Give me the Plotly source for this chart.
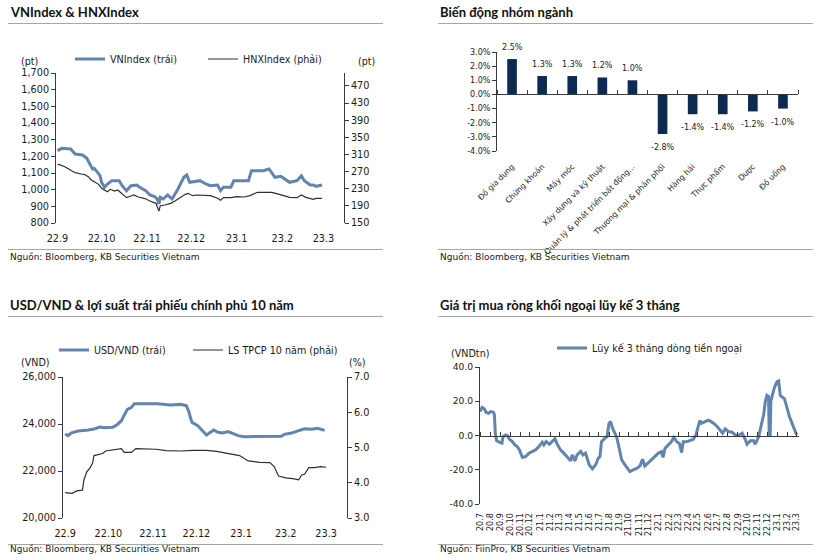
import plotly.graph_objects as go

# ---------------- Panel 1: VNIndex & HNXIndex ----------------
vn_dates = ["2022-09-01", "2022-09-04", "2022-09-10", "2022-09-13", "2022-09-18", "2022-09-21",
            "2022-09-23", "2022-09-25", "2022-09-26", "2022-09-29", "2022-09-30", "2022-10-01",
            "2022-10-03", "2022-10-05", "2022-10-08", "2022-10-13", "2022-10-15", "2022-10-18",
            "2022-10-21", "2022-10-25", "2022-10-27", "2022-10-31", "2022-11-03", "2022-11-06",
            "2022-11-08", "2022-11-09", "2022-11-10", "2022-11-12", "2022-11-15", "2022-11-18",
            "2022-11-20", "2022-11-22", "2022-11-26", "2022-11-28", "2022-11-30", "2022-12-05",
            "2022-12-07", "2022-12-11", "2022-12-14", "2022-12-19", "2022-12-21", "2022-12-23",
            "2022-12-28", "2022-12-30", "2023-01-09", "2023-01-11", "2023-01-19", "2023-01-23",
            "2023-01-25", "2023-01-27", "2023-01-31", "2023-02-03", "2023-02-06", "2023-02-11",
            "2023-02-14", "2023-02-16", "2023-02-20", "2023-02-22", "2023-02-24", "2023-02-28"]
vn_values = [1234, 1248, 1244, 1214, 1208, 1188, 1154, 1124, 1128, 1094, 1084, 1044,
             1014, 1034, 1054, 1054, 1024, 994, 1024, 1028, 1014, 994, 968, 958,
             944, 914, 954, 944, 968, 944, 974, 1004, 1074, 1088, 1044, 1048,
             1054, 1034, 1024, 1028, 994, 1014, 1014, 1054, 1054, 1114, 1114, 1124,
             1100, 1074, 1080, 1064, 1044, 1054, 1084, 1054, 1028, 1028, 1020, 1028]

hnx_dates = ["2022-09-01", "2022-09-02", "2022-09-06", "2022-09-09", "2022-09-13", "2022-09-17",
             "2022-09-19", "2022-09-22", "2022-09-24", "2022-09-26", "2022-09-29", "2022-10-01",
             "2022-10-03", "2022-10-05", "2022-10-07", "2022-10-10", "2022-10-12", "2022-10-14",
             "2022-10-16", "2022-10-18", "2022-10-21", "2022-10-23", "2022-10-26", "2022-10-30",
             "2022-11-03", "2022-11-07", "2022-11-09", "2022-11-10", "2022-11-13", "2022-11-17",
             "2022-11-20", "2022-11-24", "2022-11-27", "2022-11-29", "2022-12-02", "2022-12-05",
             "2022-12-10", "2022-12-14", "2022-12-19", "2022-12-21", "2022-12-23", "2022-12-28",
             "2023-01-01", "2023-01-06", "2023-01-10", "2023-01-15", "2023-01-25", "2023-01-29",
             "2023-02-02", "2023-02-06", "2023-02-11", "2023-02-14", "2023-02-17", "2023-02-22",
             "2023-02-24", "2023-02-28"]
hnx_values = [285.3, 286.9, 281.4, 275.2, 267.4, 264.3, 263.6, 258.1, 250.3, 246.4, 240.2, 230.9,
              227.0, 223.1, 228.6, 224.7, 227.0, 221.6, 215.3, 209.1, 213.0, 215.3, 210.7, 207.6,
              201.3, 195.9, 178.0, 190.4, 192.0, 195.9, 201.3, 211.4, 216.9, 219.2, 213.8, 215.3,
              213.8, 213.8, 207.6, 202.9, 209.1, 209.1, 211.4, 210.7, 213.8, 221.6, 221.6, 216.9,
              213.8, 209.9, 209.1, 215.3, 209.9, 205.2, 207.6, 207.6]

# ---------------- Panel 2: sector moves ----------------
sectors = ["Đồ gia dụng", "Chứng khoán", "Máy móc", "Xây dựng và kỹ thuật",
           "Quản lý & phát triển bất động...", "Thương mại & phân phối", "Hàng hải",
           "Thực phẩm", "Dược", "Đồ uống"]
sector_change = [2.5, 1.3, 1.3, 1.2, 1.0, -2.8, -1.4, -1.4, -1.2, -1.0]
pct_ticks = [3, 2, 1, 0, -1, -2, -3, -4]
pct_tick_labels = ["3.0%", "2.0%", "1.0%", "0.0%", "-1.0%", "-2.0%", "-3.0%", "-4.0%"]

# ---------------- Panel 3: USD/VND & 10Y bond yield ----------------
usd_dates = ["2022-09-01", "2022-09-03", "2022-09-05", "2022-09-10", "2022-09-17", "2022-09-21",
             "2022-09-25", "2022-09-28", "2022-10-04", "2022-10-07", "2022-10-10", "2022-10-12",
             "2022-10-14", "2022-10-17", "2022-10-19", "2022-10-26", "2022-11-04", "2022-11-13",
             "2022-11-20", "2022-11-24", "2022-11-26", "2022-11-27", "2022-11-28", "2022-12-02",
             "2022-12-05", "2022-12-08", "2022-12-10", "2022-12-13", "2022-12-16", "2022-12-19",
             "2022-12-23", "2022-12-26", "2022-12-30", "2023-01-03", "2023-01-13", "2023-01-22",
             "2023-01-29", "2023-01-31", "2023-02-05", "2023-02-09", "2023-02-14", "2023-02-19",
             "2023-02-23", "2023-02-28"]
usd_values = [23575, 23505, 23615, 23700, 23745, 23785, 23870, 23845, 23860, 23970, 24140, 24355,
              24610, 24710, 24865, 24865, 24865, 24810, 24835, 24780, 24495, 24240, 24070, 23930,
              23715, 23530, 23615, 23745, 23645, 23615, 23675, 23615, 23505, 23460, 23460, 23460,
              23475, 23560, 23615, 23700, 23800, 23775, 23815, 23730]

bond_dates = ["2022-09-01", "2022-09-06", "2022-09-09", "2022-09-13", "2022-09-14", "2022-09-16",
              "2022-09-18", "2022-09-20", "2022-09-21", "2022-09-24", "2022-09-27", "2022-09-29",
              "2022-10-05", "2022-10-10", "2022-10-12", "2022-10-17", "2022-10-20", "2022-10-27",
              "2022-11-03", "2022-11-10", "2022-11-20", "2022-11-29", "2022-12-08", "2022-12-15",
              "2022-12-22", "2022-12-31", "2023-01-06", "2023-01-14", "2023-01-21", "2023-01-24",
              "2023-01-27", "2023-02-01", "2023-02-07", "2023-02-10", "2023-02-12", "2023-02-14",
              "2023-02-17", "2023-02-21", "2023-02-25", "2023-03-01"]
bond_values = [3.72, 3.70, 3.77, 3.79, 4.08, 4.31, 4.41, 4.55, 4.77, 4.79, 4.83, 4.90,
               4.93, 4.97, 4.86, 4.86, 4.97, 4.97, 4.95, 4.91, 4.90, 4.92, 4.92, 4.89,
               4.83, 4.77, 4.62, 4.58, 4.57, 4.46, 4.19, 4.14, 4.11, 4.08, 4.22, 4.24,
               4.43, 4.43, 4.46, 4.44]

# ---------------- Panel 4: foreign net buying, 3M cumulative ----------------
flow_dates = ["2020-07-01", "2020-07-07", "2020-07-14", "2020-07-19", "2020-07-27", "2020-08-03",
              "2020-08-11", "2020-08-14", "2020-08-17", "2020-08-21", "2020-08-29", "2020-09-06",
              "2020-09-10", "2020-09-18", "2020-09-23", "2020-09-28", "2020-10-08", "2020-10-16",
              "2020-10-23", "2020-10-30", "2020-11-08", "2020-11-18", "2020-11-28", "2020-12-08",
              "2020-12-18", "2020-12-29", "2021-01-08", "2021-01-13", "2021-01-20", "2021-01-30",
              "2021-02-08", "2021-02-16", "2021-02-23", "2021-03-05", "2021-03-15", "2021-03-25",
              "2021-04-05", "2021-04-10", "2021-04-18", "2021-04-25", "2021-05-06", "2021-05-13",
              "2021-05-21", "2021-06-01", "2021-06-11", "2021-06-21", "2021-06-29", "2021-07-04",
              "2021-07-09", "2021-07-19", "2021-07-26", "2021-08-01", "2021-08-06", "2021-08-12",
              "2021-08-19", "2021-08-24", "2021-08-29", "2021-09-03", "2021-09-09", "2021-09-16",
              "2021-09-24", "2021-10-04", "2021-10-14", "2021-10-25", "2021-11-04", "2021-11-12",
              "2021-11-19", "2021-11-29", "2021-12-10", "2021-12-20", "2021-12-30", "2022-01-09",
              "2022-01-14", "2022-01-20", "2022-01-30", "2022-02-09", "2022-02-16", "2022-02-25",
              "2022-03-05", "2022-03-12", "2022-03-17", "2022-03-27", "2022-04-06", "2022-04-17",
              "2022-04-25", "2022-05-02", "2022-05-07", "2022-05-12", "2022-05-22", "2022-06-02",
              "2022-06-08", "2022-06-18", "2022-06-29", "2022-07-09", "2022-07-16", "2022-07-24",
              "2022-08-03", "2022-08-14", "2022-08-24", "2022-09-03", "2022-09-14", "2022-09-24",
              "2022-09-29", "2022-10-09", "2022-10-19", "2022-10-24", "2022-11-04", "2022-11-09",
              "2022-11-14", "2022-11-19", "2022-11-24", "2022-11-29", "2022-12-04", "2022-12-06",
              "2022-12-09", "2022-12-11", "2022-12-16", "2022-12-22", "2022-12-30", "2023-01-04",
              "2023-01-09", "2023-01-14", "2023-01-22", "2023-01-30", "2023-02-06", "2023-02-14",
              "2023-02-22", "2023-02-28"]
flow_values = [14.0, 16.4, 15.6, 13.6, 13.0, 14.0, 13.6, 12.1, 0.4, -3.1, -3.9, -4.5,
               -0.6, 0.4, 0.0, -1.9, -3.5, -5.5, -6.4, -8.4, -12.8, -12.3, -10.3, -9.3,
               -8.4, -6.4, -3.9, -5.5, -3.5, -5.1, -3.1, -1.9, -5.1, -8.4, -10.3, -12.3,
               -14.8, -11.3, -14.8, -11.3, -9.3, -11.3, -10.3, -17.1, -19.5, -17.1, -13.2, -12.4,
               -3.6, -1.7, -0.7, 7.1, 8.1, 4.2, 1.3, -0.7, -4.6, -8.5, -14.3, -16.3,
               -18.2, -21.1, -20.1, -19.2, -17.8, -13.9, -17.8, -15.9, -13.9, -12.4, -10.4, -9.4,
               -12.8, -7.5, -5.5, -3.6, -1.1, -3.6, -4.6, -10.0, -3.6, -3.6, -3.0, -2.2,
               0.3, 6.1, 8.7, 7.1, 8.1, 9.0, 8.4, 7.2, 5.3, 3.3, 1.4, 3.9,
               2.3, 1.9, 0.4, 0.0, 1.4, -2.5, -5.1, -3.1, -3.1, -5.1, -0.6, 3.9,
               7.2, 12.1, 19.9, 23.4, 22.8, 0.4, -0.6, 19.9, 23.7, 28.0, 31.5, 31.9,
               23.4, 22.8, 21.4, 16.0, 11.1, 7.2, 3.3, 0.4]
flow_ticks = [40, 20, 0, -20, -40]
flow_tick_labels = ["40.0", "20.0", "0.0", "-20.0", "-40.0"]

# ---------------- texts ----------------
titles = ["VNIndex & HNXIndex", "Biến động nhóm ngành",
          "USD/VND & lợi suất trái phiếu chính phủ 10 năm", "Giá trị mua ròng khối ngoại lũy kế 3 tháng"]
sources = ["Nguồn: Bloomberg, KB Securities Vietnam", "Nguồn: Bloomberg, KB Securities Vietnam",
           "Nguồn: Bloomberg, KB Securities Vietnam", "Nguồn: FiinPro, KB Securities Vietnam"]

# ---------------- styling ----------------
W, H = 822, 560
BLUE = "#6384ae"
DARK = "#2e2e2e"
NAVY = "#0c2a52"
AX = "#3a3a3a"
TXT = "#1a1a1a"
RULE = "#a6a6a6"
FONT = "DejaVu Sans"


def px(x):
    return x / W


def py(y):
    return 1 - y / H


fig = go.Figure()

# Panel 1
fig.add_trace(go.Scatter(x=vn_dates, y=vn_values, mode="lines", name="VNIndex (trái)",
                         line=dict(color=BLUE, width=3), xaxis="x", yaxis="y", legend="legend"))
fig.add_trace(go.Scatter(x=hnx_dates, y=hnx_values, mode="lines", name="HNXIndex (phải)",
                         line=dict(color=DARK, width=1.2), xaxis="x", yaxis="y2", legend="legend2"))
# Panel 3
fig.add_trace(go.Scatter(x=usd_dates, y=usd_values, mode="lines", name="USD/VND (trái)",
                         line=dict(color=BLUE, width=3), xaxis="x2", yaxis="y3", legend="legend3"))
fig.add_trace(go.Scatter(x=bond_dates, y=bond_values, mode="lines", name="LS TPCP 10 năm (phải)",
                         line=dict(color=DARK, width=1.2), xaxis="x2", yaxis="y4", legend="legend4"))
# Panel 2
fig.add_trace(go.Bar(x=sectors, y=sector_change, marker=dict(color=NAVY, line=dict(width=0)),
                     width=0.32, xaxis="x3", yaxis="y5", showlegend=False, hoverinfo="skip"))
fig.add_trace(go.Bar(x=sectors, y=sector_change, marker=dict(color="rgba(0,0,0,0)"), width=0.32,
                     xaxis="x4", yaxis="y5", showlegend=False, hoverinfo="skip"))
# Panel 4
fig.add_trace(go.Scatter(x=flow_dates, y=flow_values, mode="lines", name="Lũy kế 3 tháng dòng tiền ngoại",
                         line=dict(color=BLUE, width=3), xaxis="x5", yaxis="y6", legend="legend5"))
fig.add_trace(go.Scatter(x=flow_dates, y=flow_values, mode="lines", line=dict(width=0),
                         opacity=0, xaxis="x6", yaxis="y6", showlegend=False, hoverinfo="skip"))

ylin = dict(showline=True, linecolor=AX, linewidth=1, ticks="outside", ticklen=4, tickcolor=AX,
            showgrid=False, zeroline=False, automargin=False, tickfont=dict(size=9.7, color=TXT))
xdate = dict(type="date", dtick="M1", tickformat="%y.%-m", showline=False, showgrid=False,
             zeroline=False, automargin=False, ticks="outside", ticklen=6,
             tickcolor="rgba(0,0,0,0)", tickfont=dict(size=9.7, color=TXT))

rng1 = ["2022-08-31", "2023-03-15"]
rng3 = ["2022-08-30 12:00", "2023-03-15 12:00"]
rng4 = ["2020-06-30 18:00", "2023-03-06"]
zero2 = py(151) + (4 / 7) * (py(52) - py(151))
zero4 = (py(504) + py(367)) / 2

fig.update_layout(
    template="none",
    width=W, height=H, margin=dict(l=0, r=0, t=0, b=0, pad=0), autosize=False,
    paper_bgcolor="white", plot_bgcolor="white",
    font=dict(family=FONT, size=9.5, color=TXT),
    hovermode=False,
    # panel 1
    xaxis=dict(domain=[px(56), px(344)], anchor="y", range=rng1, tick0="2022-09-01", **xdate),
    yaxis=dict(domain=[py(223), py(73)], anchor="x", range=[800, 1700], dtick=100,
               tickformat=",d", **ylin),
    yaxis2=dict(overlaying="y", anchor="x", side="right", range=[150, 500], tick0=150, dtick=40,
                **ylin),
    # panel 3
    xaxis2=dict(domain=[px(63), px(347)], anchor="y3", range=rng3, tick0="2022-09-01", **xdate),
    yaxis3=dict(domain=[py(518), py(377)], anchor="x2", range=[20000, 26000], dtick=2000,
                tickformat=",d", **ylin),
    yaxis4=dict(overlaying="y3", anchor="x2", side="right", range=[3, 7], dtick=1,
                tickformat=".1f", **ylin),
    # panel 2
    xaxis3=dict(domain=[px(497), px(798)], anchor="y5", type="category", range=[-0.5, 9.5],
                showline=False, showgrid=False, zeroline=False, automargin=False, ticks="outside",
                ticklen=7, tickcolor="rgba(0,0,0,0)", tickangle=-45,
                tickfont=dict(size=7.8, color=TXT)),
    xaxis4=dict(overlaying="x3", anchor="free", position=zero2, side="top", type="category",
                range=[-0.5, 9.5], tickson="boundaries", ticks="outside", ticklen=4, tickcolor=AX,
                showline=True, linecolor=AX, linewidth=1, showticklabels=False, showgrid=False,
                zeroline=False, automargin=False),
    yaxis5=dict(domain=[py(151), py(52)], anchor="x3", range=[-4, 3], tickmode="array",
                tickvals=pct_ticks, ticktext=pct_tick_labels,
                **{**ylin, "tickfont": dict(size=8, color=TXT)}),
    # panel 4
    xaxis5=dict(domain=[px(480), px(798.5)], anchor="y6", range=rng4, tick0="2020-07-01",
                tickangle=-90, **{**xdate, "ticklen": 5, "tickfont": dict(size=8, color=TXT)}),
    xaxis6=dict(overlaying="x5", anchor="free", position=zero4, side="top", type="date",
                range=rng4, tick0="2020-07-01", dtick="M1", ticks="outside", ticklen=4,
                tickcolor=AX, showline=True, linecolor=AX, linewidth=1, showticklabels=False,
                showgrid=False, zeroline=False, automargin=False),
    yaxis6=dict(domain=[py(504), py(367)], anchor="x5", range=[-40, 40], tickmode="array",
                tickvals=flow_ticks, ticktext=flow_tick_labels,
                **{**ylin, "tickfont": dict(size=9.2, color=TXT)}),
)

leg = dict(orientation="h", xanchor="left", yanchor="middle", bgcolor="rgba(0,0,0,0)",
           borderwidth=0, font=dict(family=FONT, size=9.6, color=TXT), itemwidth=30)
fig.update_layout(
    legend=dict(x=px(70), y=py(59), **leg),
    legend2=dict(x=px(203), y=py(59), **leg),
    legend3=dict(x=px(54), y=py(350), **leg),
    legend4=dict(x=px(188), y=py(350), **leg),
    legend5=dict(x=px(552), y=py(348), **leg),
)

ann = []
title_pos = [(8, 12), (438, 12), (8, 305), (438, 305)]
source_pos = [(8, 257), (438, 257), (8, 549), (438, 549)]
for t, (x, y) in zip(titles, title_pos):
    ann.append(dict(text="<b>" + t + "</b>", x=px(x), y=py(y), xref="paper", yref="paper",
                    xanchor="left", yanchor="middle", showarrow=False,
                    font=dict(family="Lato", size=13, color="#111111")))
for t, (x, y) in zip(sources, source_pos):
    ann.append(dict(text=t, x=px(x), y=py(y), xref="paper", yref="paper",
                    xanchor="left", yanchor="middle", showarrow=False,
                    font=dict(family=FONT, size=9, color=TXT)))
units = [("(pt)", 30, 61), ("(pt)", 366, 61), ("(VND)", 35, 362), ("(%)", 357, 362),
         ("(VNDtn)", 470, 353)]
for t, x, y in units:
    ann.append(dict(text=t, x=px(x), y=py(y), xref="paper", yref="paper",
                    xanchor="center", yanchor="middle", showarrow=False,
                    font=dict(family=FONT, size=9.6, color=TXT)))
for cat, v in zip(sectors, sector_change):
    ann.append(dict(text=f"{v:.1f}%", x=cat, y=v, xref="x3", yref="y5", showarrow=False,
                    yshift=12 if v > 0 else -13.5, font=dict(family=FONT, size=8, color=TXT)))
fig.update_layout(annotations=ann)

shapes = []
for x0, x1 in [(8, 383), (438, 813)]:
    for y in [23.5, 249.5, 316.5, 544.5]:
        shapes.append(dict(type="line", xref="paper", yref="paper", x0=px(x0), x1=px(x1),
                           y0=py(y), y1=py(y), line=dict(color=RULE, width=1)))
fig.update_layout(shapes=shapes)

fig.write_html("out.html", include_plotlyjs=True, config={"displayModeBar": False},
               post_script="document.body.style.margin='0';document.body.style.overflow='hidden';")
